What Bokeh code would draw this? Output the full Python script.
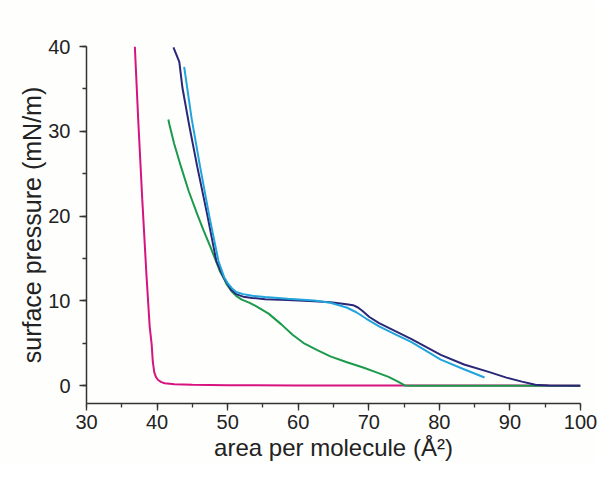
from bokeh.plotting import figure
from bokeh.models import SingleIntervalTicker, Range1d
from bokeh.embed import file_html
from bokeh.resources import INLINE

# ---- data ----
magenta_x = [36.85, 37.35, 37.9, 38.5, 38.95, 39.23, 39.4, 39.6, 39.85, 40.15, 40.6, 41.08, 42.46, 45, 50, 60, 75, 100]
magenta_y = [40, 31, 22, 13, 7, 4.9, 2.8, 1.6, 1.0, 0.67, 0.42, 0.29, 0.18, 0.1, 0.06, 0.03, 0.02, 0.0]

navy_x = [42.32, 43.15, 43.6, 44.6, 45.7, 47.1, 48.4, 49.4, 50.0, 50.5, 51.2, 52.2, 53.5, 55.3, 58.5, 62.25,
          64.56, 66.85, 67.78, 68.47, 69.16, 70.08, 71.46, 73.76, 76.06, 80.2, 83.5, 87.1, 89.5, 91.7,
          93.6, 95.5, 100]
navy_y = [39.9, 38.2, 35.1, 30.5, 25.8, 20.2, 14.7, 12.8, 12.0, 11.3, 10.8, 10.5, 10.35, 10.2, 10.1, 9.97,
          9.85, 9.6, 9.49, 9.22, 8.77, 8.1, 7.37, 6.43, 5.5, 3.64, 2.5, 1.6, 0.95, 0.48,
          0.1, 0.02, 0.0]

cyan_x = [43.84, 44.9, 46.1, 47.4, 48.7, 49.5, 50.0, 50.6, 51.2, 52.2, 53.5, 55.3, 58.5, 62.25, 64.56,
          66.85, 68.23, 69.61, 71.46, 73.76, 76.06, 80.2, 83.3, 86.4]
cyan_y = [37.6, 31.5, 25.8, 20.0, 14.7, 12.8, 12.1, 11.5, 11.05, 10.8, 10.6, 10.45, 10.25, 10.04, 9.78,
          9.22, 8.66, 7.92, 6.99, 6.06, 5.13, 3.08, 2.0, 0.96]

green_x = [41.6, 41.75, 42.4, 43.4, 44.5, 45.7, 46.6, 47.5, 48.2, 48.9, 49.5, 49.82, 50.5, 51.2, 52.0, 53.04,
           53.96, 55.8, 57.65, 59.2, 60.9, 62.7, 64.55, 66.8, 69.2, 71.0, 72.8, 74.0, 75.1, 76, 80, 90, 100]
green_y = [31.4, 30.8, 28.6, 25.8, 22.9, 20.2, 18.3, 16.5, 15.0, 13.5, 12.6, 12.0, 11.2, 10.6, 10.15, 9.8,
           9.4, 8.5, 7.2, 6.0, 4.95, 4.2, 3.46, 2.8, 2.15, 1.6, 1.04, 0.55, 0.03, 0.0, 0.0, 0.0, 0.0]

x_start, x_end = 30, 100
y_start, y_end = -2.1, 40

bg = "#fefefd"
p = figure(width=597, height=463, output_backend="svg", toolbar_location=None,
           x_range=Range1d(x_start, x_end), y_range=Range1d(y_start, y_end),
           min_border_left=86, min_border_top=46, min_border_right=17, min_border_bottom=20,
           background_fill_color=bg, border_fill_color=bg)
p.outline_line_color = None
p.grid.visible = False

p.line(magenta_x, magenta_y, line_color="#d6137f", line_width=2)
p.line(green_x, green_y, line_color="#1b9a4c", line_width=2)
p.line(navy_x, navy_y, line_color="#2a2777", line_width=2)
p.line(cyan_x, cyan_y, line_color="#21a4db", line_width=2)

font = "Liberation Sans"
for ax in (p.xaxis[0], p.yaxis[0]):
    ax.ticker = SingleIntervalTicker(interval=10, num_minor_ticks=2)
    ax.axis_line_color = "#333333"
    ax.axis_line_width = 1.5
    ax.major_tick_line_color = "#333333"
    ax.minor_tick_line_color = "#333333"
    ax.major_tick_line_width = 1.3
    ax.minor_tick_line_width = 1.3
    ax.major_tick_in = 0
    ax.major_tick_out = 7
    ax.minor_tick_in = 0
    ax.minor_tick_out = 4
    ax.major_label_text_font = font
    ax.major_label_text_font_size = "20px"
    ax.major_label_text_color = "#222222"
    ax.axis_label_text_font = font
    ax.axis_label_text_font_style = "normal"
    ax.axis_label_text_color = "#222222"

p.xaxis[0].axis_label = "area per molecule (Å²)"
p.yaxis[0].axis_label = "surface pressure (mN/m)"
p.xaxis[0].axis_label_text_font_size = "24px"
p.yaxis[0].axis_label_text_font_size = "25px"
p.xaxis[0].major_label_standoff = 4
p.xaxis[0].axis_label_standoff = 2
p.yaxis[0].major_label_standoff = 9
p.yaxis[0].axis_label_standoff = -1

open("out.html", "w").write(file_html(p, INLINE))
